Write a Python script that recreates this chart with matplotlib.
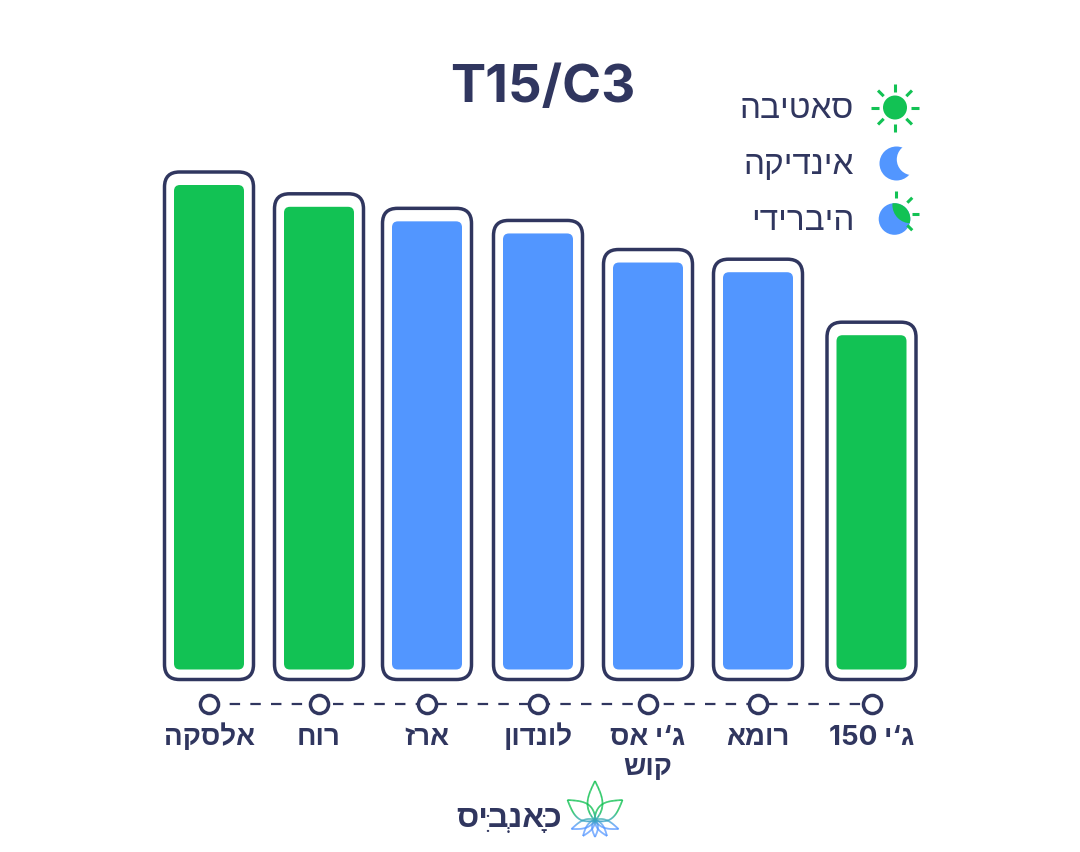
import re
import unicodedata

import matplotlib
matplotlib.use("Agg")
import matplotlib.pyplot as plt
import numpy as np
from matplotlib.collections import LineCollection
from matplotlib.colors import to_rgb
from matplotlib.patches import Circle, FancyBboxPatch

TITLE = "T15/C3"
strains = ["אלסקה", "רוח", "ארז", "לונדון", "ג‘י אס\nקוש", "רומא", "ג‘י 150"]
values = [100, 95.5, 92.5, 90, 84, 82, 69]
kinds = ["sativa", "sativa", "indica", "indica", "indica", "indica", "sativa"]
legend_labels = ["סאטיבה", "אינדיקה", "היברידי"]
LOGO_TEXT = "כָּאנְבִּיס"

NAVY = "#30365f"
GREEN = "#12c254"
BLUE = "#5296ff"
KIND_COLORS = {"sativa": GREEN, "indica": BLUE}

# pixel layout of the picture
BAR_CENTERS = [209, 319, 427, 538, 648, 758, 871.5]
BAR_BASE = 669.5
PX_PER_UNIT = 4.845
HEBREW = ["Inter", "Liberation Sans"]


def visual(text):
    """matplotlib has no bidi, so put Hebrew in left to right drawing order.

    Marks go in front of their letter: they take no advance, so they land on it.
    """
    clusters = []
    for ch in text:
        if unicodedata.combining(ch) and clusters:
            clusters[-1] = ch + clusters[-1]
        else:
            clusters.append(ch)
    flipped = "".join(reversed(clusters))
    return re.sub(r"\d+", lambda m: m.group(0)[::-1], flipped)


def draw_rays(ax, cx, cy, angles, r0, r1, color, lw=2.2):
    for angle in np.radians(angles):
        ax.plot(
            [cx + r0 * np.cos(angle), cx + r1 * np.cos(angle)],
            [cy - r0 * np.sin(angle), cy - r1 * np.sin(angle)],
            color=color, lw=lw, solid_capstyle="butt", zorder=3,
        )


def draw_legend_icons(ax):
    # sun
    ax.add_patch(Circle((895, 107.5), 12, color=GREEN, lw=0, zorder=3))
    draw_rays(ax, 895, 107.5, np.arange(0, 360, 45), 16, 24, GREEN)

    # moon
    ax.add_patch(Circle((896.5, 163.5), 17, color=BLUE, lw=0, zorder=3))
    ax.add_patch(Circle((912.5, 159.5), 15.7, color="white", lw=0, zorder=4))

    # half and half
    body = Circle((894.5, 219), 15.8, color=BLUE, lw=0, zorder=3)
    ax.add_patch(body)
    slice_ = Circle((910.7, 205), 18.3, color=GREEN, lw=0, zorder=4)
    ax.add_patch(slice_)
    slice_.set_clip_path(body)
    draw_rays(ax, 896, 214, [90, 45, 0, -45], 16, 23, GREEN)


def draw_leaf(ax, base, tip, width):
    base = np.array(base, dtype=float)
    tip = np.array(tip, dtype=float)
    along = tip - base
    normal = np.array([-along[1], along[0]]) / np.hypot(*along)
    t = np.linspace(0, 1, 50)
    bulge = width * np.sin(np.pi * t ** 0.8)
    side_a = base + np.outer(t, along) + np.outer(bulge, normal)
    side_b = base + np.outer(t, along) - np.outer(bulge, normal)
    outline = np.vstack([side_a, side_b[::-1]])

    segments = np.stack([outline[:-1], outline[1:]], axis=1)
    mix = np.clip((segments[:, 0, 1] - 811) / 15, 0, 1)[:, None]
    colors = (1 - mix) * np.array(to_rgb(GREEN)) + mix * np.array(to_rgb(BLUE))
    ax.add_collection(LineCollection(segments, colors=colors, linewidths=1.2, zorder=3))


def draw_logo(ax):
    hub = (595, 820)
    draw_leaf(ax, hub, (595, 781), 7.5)
    draw_leaf(ax, hub, (567.5, 800), 8.5)
    draw_leaf(ax, hub, (622.5, 800), 8.5)
    draw_leaf(ax, hub, (571.5, 829), 4)
    draw_leaf(ax, hub, (618.5, 829), 4)
    draw_leaf(ax, hub, (583, 836), 3)
    draw_leaf(ax, hub, (607, 836), 3)
    draw_leaf(ax, hub, (595, 837), 3)
    ax.text(562, 827, visual(LOGO_TEXT), ha="right", va="baseline", fontsize=23,
            fontweight="bold", color=NAVY, family=HEBREW)


fig = plt.figure(figsize=(10.8, 8.52), dpi=100, facecolor="white")
ax = fig.add_axes([0, 0, 1, 1])
ax.set_xlim(0, 1080)
ax.set_ylim(852, 0)
ax.axis("off")

ax.text(543, 102, TITLE, ha="center", va="baseline", fontsize=38, fontweight="bold",
        color=NAVY, family=["Inter", "Roboto"])

for x, value, kind in zip(BAR_CENTERS, values, kinds):
    top = BAR_BASE - value * PX_PER_UNIT
    outer_top = top - 13
    ax.add_patch(FancyBboxPatch(
        (x - 44.5, outer_top), 89, BAR_BASE + 10 - outer_top,
        boxstyle="round,pad=0,rounding_size=15",
        facecolor="white", edgecolor=NAVY, linewidth=2.5, zorder=1,
    ))
    ax.add_patch(FancyBboxPatch(
        (x - 35, top), 70, BAR_BASE - top,
        boxstyle="round,pad=0,rounding_size=6",
        facecolor=KIND_COLORS[kind], edgecolor="none", zorder=2,
    ))

ax.plot(BAR_CENTERS, [704] * len(BAR_CENTERS), color=NAVY, lw=1.6,
        dashes=(4.7, 4.6), zorder=1)
ax.scatter(BAR_CENTERS, [704] * len(BAR_CENTERS), s=170, facecolor="white",
           edgecolor=NAVY, linewidth=2.5, zorder=2)

for x, name in zip(BAR_CENTERS, strains):
    for i, line in enumerate(name.split("\n")):
        ax.text(x, 745 + i * 30, visual(line), ha="center", va="baseline", fontsize=20,
                fontweight="bold", color=NAVY, family=HEBREW)

for y, label in zip([118, 174, 230], legend_labels):
    ax.text(854, y, visual(label), ha="right", va="baseline", fontsize=24,
            color=NAVY, family=HEBREW)

draw_legend_icons(ax)
draw_logo(ax)

fig.savefig("out.png", dpi=100)
